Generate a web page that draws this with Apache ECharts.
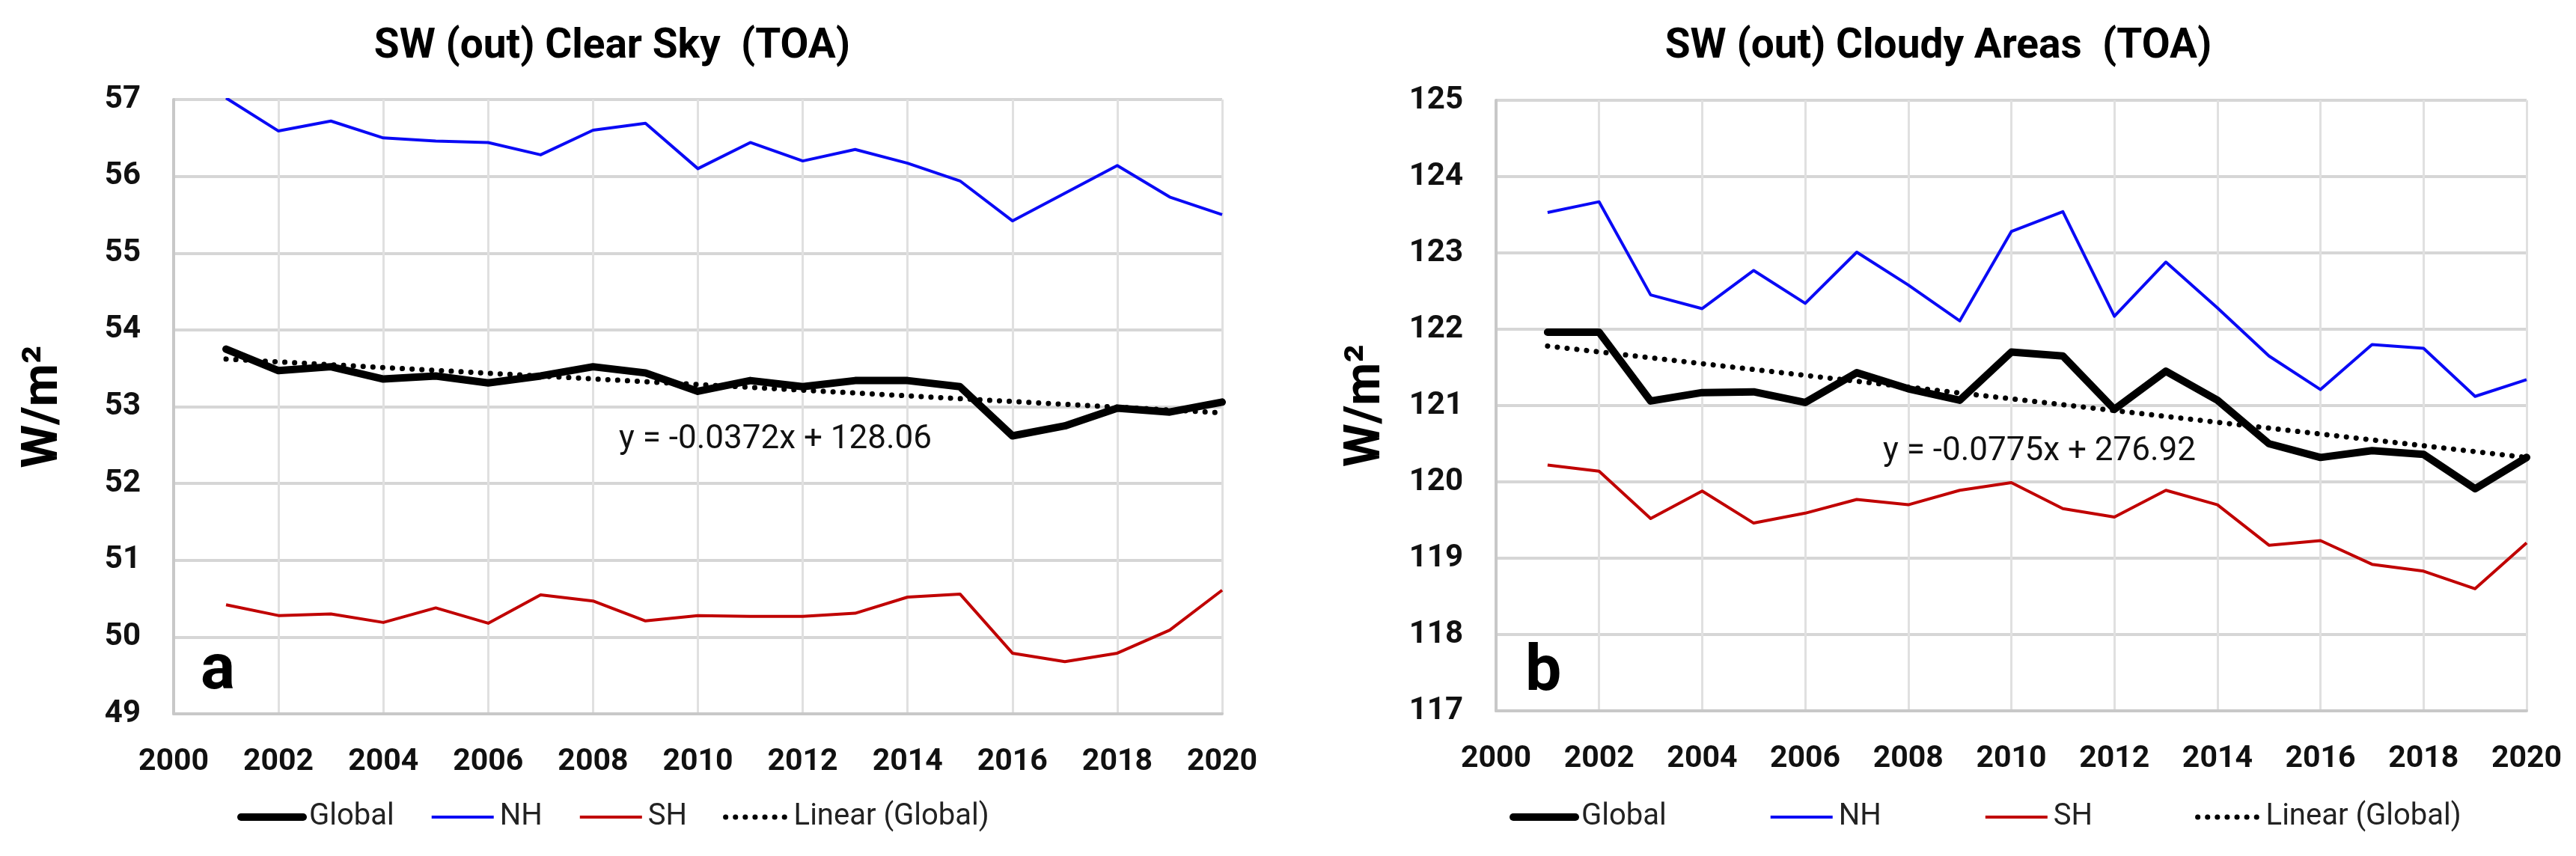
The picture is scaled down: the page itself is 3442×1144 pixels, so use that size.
<!DOCTYPE html>
<html><head><meta charset="utf-8">
<script src="https://cdn.jsdelivr.net/npm/echarts@6/dist/echarts.min.js"></script>
<style>html,body{margin:0;padding:0;background:#fff}#c{width:3442px;height:1144px}</style>
</head><body><div id="c"></div>
<script>
// ---------- data ----------
const years = [2001,2002,2003,2004,2005,2006,2007,2008,2009,2010,2011,2012,2013,2014,2015,2016,2017,2018,2019,2020];
const seriesNames = ['Global', 'NH', 'SH', 'Linear (Global)'];

const clearTitle = 'SW (out) Clear Sky  (TOA)';
const clearGlobal = [53.75,53.47,53.52,53.36,53.40,53.31,53.40,53.52,53.44,53.20,53.34,53.26,53.34,53.34,53.26,52.62,52.75,52.98,52.93,53.06];
const clearNH     = [57.02,56.59,56.72,56.50,56.46,56.44,56.28,56.60,56.69,56.10,56.44,56.20,56.35,56.17,55.94,55.42,55.78,56.14,55.73,55.50];
const clearSH     = [50.42,50.28,50.30,50.19,50.38,50.18,50.55,50.47,50.21,50.28,50.27,50.27,50.31,50.52,50.56,49.79,49.68,49.79,50.09,50.61];
const trendYears  = [2001, 2020];
const clearTrend  = [53.62, 52.92];
const clearEquation = 'y = -0.0372x + 128.06';
const clearYTicks = {min: 49, max: 57, interval: 1};

const cloudTitle = 'SW (out) Cloudy Areas  (TOA)';
const cloudGlobal = [121.96,121.96,121.06,121.17,121.18,121.04,121.43,121.22,121.07,121.70,121.65,120.95,121.45,121.07,120.50,120.32,120.41,120.36,119.91,120.32];
const cloudNH     = [123.53,123.67,122.45,122.27,122.77,122.34,123.01,122.58,122.11,123.28,123.54,122.17,122.88,122.28,121.65,121.21,121.80,121.75,121.12,121.34];
const cloudSH     = [120.22,120.14,119.52,119.88,119.46,119.59,119.77,119.70,119.89,119.99,119.65,119.54,119.89,119.70,119.17,119.23,118.92,118.83,118.60,119.20];
const cloudTrend  = [121.78, 120.32];
const cloudEquation = 'y = -0.0775x + 276.92';
const cloudYTicks = {min: 117, max: 125, interval: 1};

const xTicks = {min: 2000, max: 2020, interval: 2};
const yUnit = 'W/m\u00B2';
const panelLetters = ['a', 'b'];

// ---------- helpers ----------
const FONT = 'Roboto';
const pair = (xs, ys) => xs.map((x, i) => [x, ys[i]]);
const cv = document.createElement('canvas').getContext('2d');
function textW(t, font) { cv.font = font; return cv.measureText(t).width; }

const grids = [
  {left: 232, top: 133, width: 1401, height: 821},
  {left: 1999, top: 134, width: 1377, height: 816}
];

function xAxis(i) {
  return {
    type: 'value', gridIndex: i, min: xTicks.min, max: xTicks.max, interval: xTicks.interval,
    axisLine: {show: true, lineStyle: {color: '#c8c8c8', width: 4}},
    axisTick: {show: false},
    splitLine: {show: true, lineStyle: {color: '#e0e0e0', width: 3}},
    axisLabel: {fontFamily: FONT, fontWeight: 'bold', fontSize: 41, color: '#111', margin: 44,
      formatter: v => String(v)}
  };
}
function yAxis(i, t) {
  return {
    type: 'value', gridIndex: i, min: t.min, max: t.max, interval: t.interval,
    name: yUnit, nameLocation: 'middle', nameRotate: 90, nameGap: 140,
    nameTextStyle: {fontFamily: FONT, fontWeight: 'bold', fontSize: 66, color: '#000'},
    axisLine: {show: true, lineStyle: {color: '#c8c8c8', width: 4}},
    axisTick: {show: false},
    splitLine: {show: true, lineStyle: {color: '#d6d6d6', width: 4}},
    axisLabel: {fontFamily: FONT, fontWeight: 'bold', fontSize: 42, color: '#111', margin: 44,
      formatter: v => String(v)}
  };
}
function panelSeries(i, g, nh, sh, tr) {
  const base = {type: 'line', xAxisIndex: i, yAxisIndex: i, symbol: 'none', showSymbol: false, silent: true, animation: false};
  return [
    Object.assign({}, base, {name: seriesNames[0], data: pair(years, g), lineStyle: {color: '#000', width: 10, join: 'round', cap: 'round'}, itemStyle: {color: '#000'}}),
    Object.assign({}, base, {name: seriesNames[1], data: pair(years, nh), lineStyle: {color: '#0a0af5', width: 4, join: 'round'}, itemStyle: {color: '#0a0af5'}}),
    Object.assign({}, base, {name: seriesNames[2], data: pair(years, sh), lineStyle: {color: '#c00000', width: 4, join: 'round'}, itemStyle: {color: '#c00000'}}),
    Object.assign({}, base, {name: seriesNames[3], data: pair(trendYears, tr), lineStyle: {color: '#000', width: 7, type: [0.1, 13], cap: 'round'}, itemStyle: {color: '#000'}})
  ];
}

const titleFont = 'bold 55px ' + FONT;
const titleCenters = [818, 2590];
const titles = [clearTitle, cloudTitle].map((t, i) => ({
  text: t, left: titleCenters[i] - textW(t, titleFont) / 2, top: 36, padding: 0,
  textStyle: {fontFamily: FONT, fontWeight: 'bold', fontSize: 55, color: '#000'}
}));

function legend(left, gap) {
  return {
    data: seriesNames, left: left, top: 1072, itemWidth: 83, itemHeight: 14, itemGap: gap,
    selectedMode: false, padding: 0,
    lineStyle: {width: 'inherit'},
    itemStyle: {opacity: 0, borderWidth: 0},
    textStyle: {fontFamily: FONT, fontSize: 40, color: '#222', padding: [0, 0, 0, 3]}
  };
}

const option = {
  backgroundColor: '#fff',
  animation: false,
  title: titles,
  grid: grids,
  xAxis: [xAxis(0), xAxis(1)],
  yAxis: [yAxis(0, clearYTicks), yAxis(1, cloudYTicks)],
  legend: [legend(317, 48), legend(2017, 137)],
  series: [].concat(
    panelSeries(0, clearGlobal, clearNH, clearSH, clearTrend),
    panelSeries(1, cloudGlobal, cloudNH, cloudSH, cloudTrend)
  ),
  graphic: [
    {type: 'text', x: 1036, y: 588, z: 100, style: {text: clearEquation, font: '44px ' + FONT, fill: '#111', align: 'center', verticalAlign: 'middle'}},
    {type: 'text', x: 2725, y: 604, z: 100, style: {text: cloudEquation, font: '44px ' + FONT, fill: '#111', align: 'center', verticalAlign: 'middle'}},
    {type: 'text', x: 268, y: 898, z: 100, style: {text: panelLetters[0], font: 'bold 86px ' + FONT, fill: '#000', align: 'left', verticalAlign: 'middle'}},
    {type: 'text', x: 2038, y: 900, z: 100, style: {text: panelLetters[1], font: 'bold 86px ' + FONT, fill: '#000', align: 'left', verticalAlign: 'middle'}}
  ]
};

const chart = echarts.init(document.getElementById('c'), null, {renderer: 'canvas'});
chart.setOption(option);
</script>
</body></html>
